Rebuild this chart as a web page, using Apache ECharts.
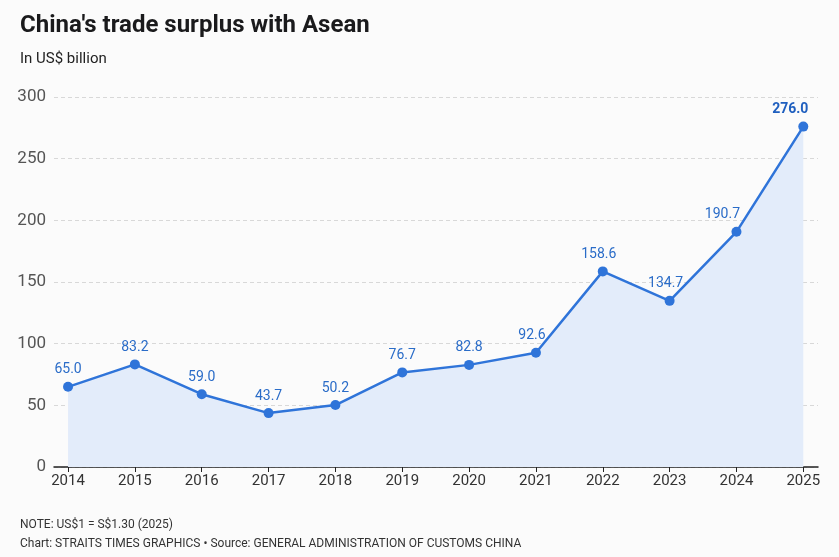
<!DOCTYPE html>
<html>
<head>
<meta charset="utf-8">
<script src="https://cdn.jsdelivr.net/npm/echarts@6/dist/echarts.min.js"></script>
<style>
	html, body { margin: 0; padding: 0; background: #fbfbfb; }
	#chart { width: 839px; height: 557px; }
</style>
</head>
<body>
<div id="chart"></div>
<script>
'use strict';

var years = [2014, 2015, 2016, 2017, 2018, 2019, 2020, 2021, 2022, 2023, 2024, 2025];
var surplus = [65.0, 83.2, 59.0, 43.7, 50.2, 76.7, 82.8, 92.6, 158.6, 134.7, 190.7, 276.0];
var yTicks = [0, 50, 100, 150, 200, 250, 300];

(function(){
	var font = 'Roboto, "Liberation Sans", sans-serif',
			blue = '#2f74d9',
			// labels nudged left so they clear the steep segments
			shift = { 2021: -4, 2022: -4, 2023: -4, 2024: -14, 2025: -13 },
			data = [];

	years.forEach(function(y, i){
		var label = { offset: [shift[y] || 0, 0] };
		if(i === years.length - 1){
			label.fontWeight = 'bold';
			label.color = '#1f5fbf';
		}
		data.push({ value: [y, surplus[i]], label: label });
	});

	var option = {
		backgroundColor: '#fbfbfb',
		textStyle: { fontFamily: font },
		title: [
			{ text: "China's trade surplus with Asean", left: 15, top: 9,
				textStyle: { fontSize: 24, fontWeight: 'bold', color: '#1a1a1c', fontFamily: font } },
			{ text: 'In US$ billion', left: 15, top: 47,
				textStyle: { fontSize: 15, fontWeight: 'normal', color: '#222', fontFamily: font } },
			{ text: 'NOTE: US$1 = S$1.30 (2025)', left: 15, top: 514,
				textStyle: { fontSize: 12, fontWeight: 'normal', color: '#333', fontFamily: font } },
			{ text: 'Chart: STRAITS TIMES GRAPHICS \u2022 Source: GENERAL ADMINISTRATION OF CUSTOMS CHINA', left: 15, top: 533,
				textStyle: { fontSize: 12, fontWeight: 'normal', color: '#333', fontFamily: font } },
		],
		grid: { left: 54, right: 21, top: 97, bottom: 90 },
		xAxis: {
			type: 'value',
			min: 2013.79,
			max: 2025.22,
			splitLine: { show: false },
			axisLine: { show: true, lineStyle: { color: '#222', width: 1.5 } },
			axisTick: { show: true, customValues: years, length: 5, lineStyle: { color: '#222' } },
			axisLabel: { customValues: years, fontSize: 15, color: '#333', margin: 7,
				formatter: function(v){ return String(Math.round(v)); } },
		},
		yAxis: {
			type: 'value',
			min: 0,
			max: 300,
			interval: 50,
			axisLine: { show: false },
			axisTick: { show: false },
			axisLabel: { fontSize: 17, color: '#555', margin: 8,
				customValues: yTicks },
			splitLine: { lineStyle: { color: '#d8d8d8', type: [4, 3] } },
		},
		series: [{
			type: 'line',
			data: data,
			symbol: 'circle',
			symbolSize: 10,
			lineStyle: { color: blue, width: 2.5 },
			itemStyle: { color: blue },
			areaStyle: { color: '#e3ecfa', opacity: 1 },
			label: {
				show: true,
				position: 'top',
				distance: 5,
				fontSize: 14,
				color: '#2a6cc8',
				formatter: function(p){ return p.value[1].toFixed(1); },
			},
			z: 3,
		}],
	};

	echarts.init(document.getElementById('chart')).setOption(option);
})();
</script>
</body>
</html>
